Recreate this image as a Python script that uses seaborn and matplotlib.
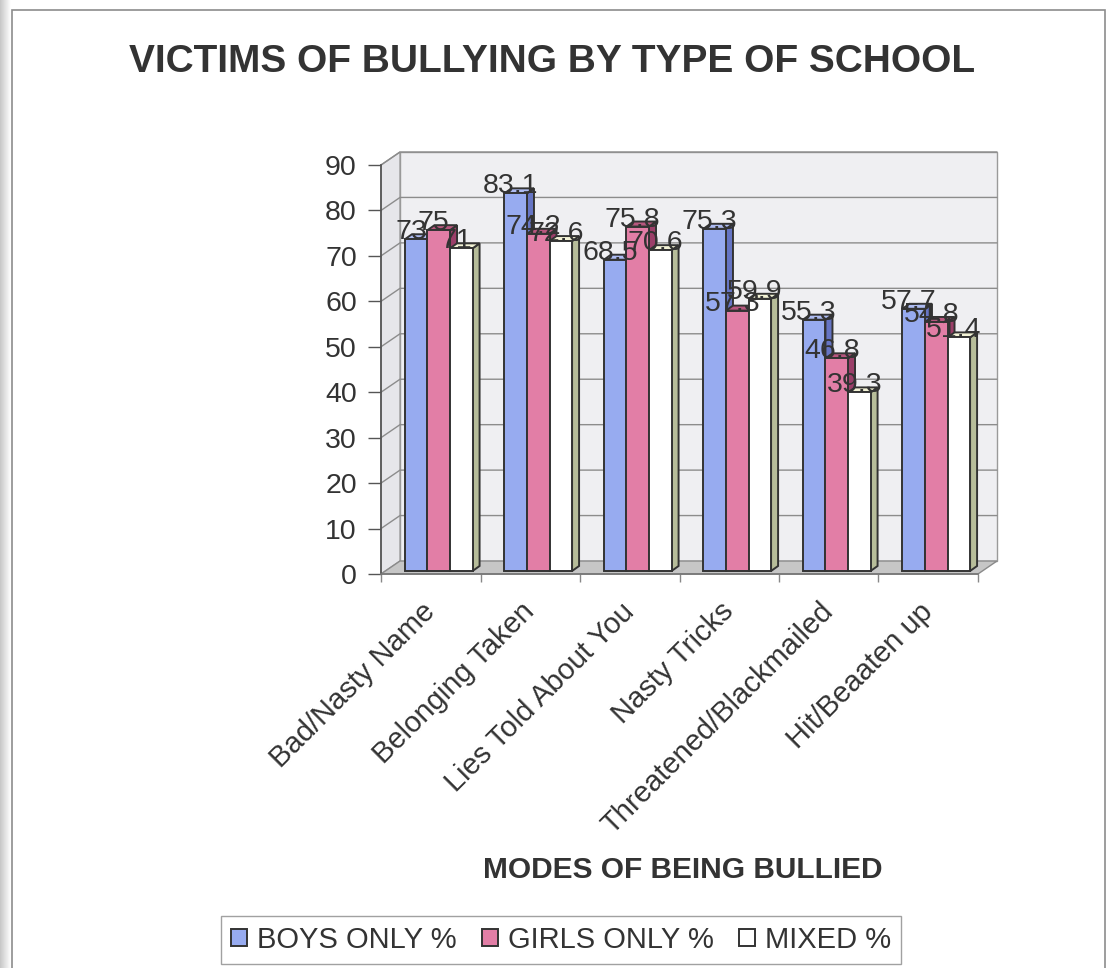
import numpy as np
import pandas as pd
import seaborn as sns
import matplotlib
matplotlib.use("Agg")
import matplotlib.pyplot as plt
from matplotlib.patches import Polygon, Rectangle
from matplotlib.transforms import ScaledTranslation

# ---- data -------------------------------------------------------------
categories = ["Bad/Nasty Name", "Belonging Taken", "Lies Told About You",
              "Nasty Tricks", "Threatened/Blackmailed", "Hit/Beaaten up"]
series = ["BOYS ONLY %", "GIRLS ONLY %", "MIXED %"]
boys = [73, 83.1, 68.5, 75.3, 55.3, 57.7]
girls = [75, 74.2, 75.8, 57.3, 46.8, 54.8]
mixed = [71, 72.6, 70.6, 59.9, 39.3, 51.4]
y_ticks = [0, 10, 20, 30, 40, 50, 60, 70, 80, 90]

title = "VICTIMS OF BULLYING BY TYPE OF SCHOOL"
x_title = "MODES OF BEING BULLIED"

# ---- style ------------------------------------------------------------
front_colors = ["#97abf0", "#e27ea6", "#ffffff"]
side_colors = ["#6675c4", "#9b3f69", "#b7bd9a"]
top_colors = ["#aebcf2", "#b8577f", "#f3f3d6"]
ink = "#333333"

sns.set_theme(style="white")
plt.rcParams["font.family"] = ["Liberation Sans", "DejaVu Sans"]

df = pd.DataFrame({
    "mode": categories * 3,
    "school": np.repeat(series, len(categories)),
    "pct": boys + girls + mixed,
})

W, H = 1115, 968
fig = plt.figure(figsize=(W / 100, H / 100), dpi=100)
fig.patch.set_facecolor("white")
ax = fig.add_axes([381 / W, 1 - 574 / H, (978 - 381) / W, (574 - 165) / H])
ax.set_facecolor("none")

sns.barplot(data=df, x="mode", y="pct", hue="school", order=categories,
            hue_order=series, palette=front_colors, width=0.68, saturation=1,
            edgecolor=ink, linewidth=1.4, errorbar=None, ax=ax)

x0, x1 = -0.5, len(categories) - 0.5
ax.set_xlim(x0, x1)
ax.set_ylim(0, 90)

# pixel -> data conversion for the pseudo-3D depth
bb = ax.get_window_extent()
ux = (x1 - x0) / bb.width
uy = 90 / bb.height
wx, wy = 19 * ux, 13 * uy      # wall depth
bdx, bdy = 7 * ux, 5 * uy      # bar depth

# walls, grid and floor
ax.add_patch(Rectangle((x0 + wx, wy), x1 - x0, 90, facecolor="#efeff2",
                       edgecolor="#9a9a9a", lw=1, zorder=0.2, clip_on=False))
ax.add_patch(Polygon([(x0, 0), (x0 + wx, wy), (x0 + wx, 90 + wy), (x0, 90)],
                     facecolor="#e6e6ea", edgecolor="#9a9a9a", lw=1,
                     zorder=0.2, clip_on=False))
for v in y_ticks[1:]:
    ax.plot([x0, x0 + wx, x1 + wx], [v, v + wy, v + wy], color="#8c8c8c",
            lw=1, zorder=0.3, clip_on=False)
ax.add_patch(Polygon([(x0, 0), (x1, 0), (x1 + wx, wy), (x0 + wx, wy)],
                     facecolor="#c6c6c6", edgecolor="#8a8a8a", lw=1,
                     zorder=0.4, clip_on=False))

# bars stand slightly behind the front plane
shift = ax.transData + ScaledTranslation(8 / 100, 3 / 100, fig.dpi_scale_trans)

for j, cont in enumerate(ax.containers):
    for bar in cont:
        xl = bar.get_x()
        w = bar.get_width()
        h = bar.get_height()
        z = 2 + j * 0.1
        bar.set_transform(shift)
        bar.set_zorder(z + 0.05)
        bar.set_clip_on(False)
        ax.add_patch(Polygon([(xl + w, 0), (xl + w + bdx, bdy),
                              (xl + w + bdx, h + bdy), (xl + w, h)],
                             facecolor=side_colors[j], edgecolor=ink, lw=1.4,
                             transform=shift, zorder=z, clip_on=False))
        ax.add_patch(Polygon([(xl, h), (xl + bdx, h + bdy),
                              (xl + w + bdx, h + bdy), (xl + w, h)],
                             facecolor=top_colors[j], edgecolor=ink, lw=1.4,
                             transform=shift, zorder=z, clip_on=False))
        ax.annotate(f"{h:g}", (xl + w / 2, h), xytext=(3 * 0.72, 10 * 0.72),
                    textcoords="offset points", ha="center", va="center",
                    fontsize=20.5, color=ink, zorder=10, annotation_clip=False)

# axes, ticks
ax.set_xlabel("")
ax.set_ylabel("")
ax.set_xticks(np.arange(x0, x1 + 0.01, 1))
ax.set_xticklabels([])
ax.set_xticks(range(len(categories)), minor=True)
ax.set_xticklabels(categories, minor=True, rotation=45, ha="right",
                   va="center", rotation_mode="anchor", fontsize=21, color=ink)
ax.tick_params(axis="x", which="major", length=6, width=1, color="#888888",
               direction="out", bottom=True)
ax.tick_params(axis="x", which="minor", length=0, pad=24, bottom=True)
ax.set_yticks(y_ticks)
ax.set_yticklabels([str(v) for v in y_ticks], fontsize=20.5, color=ink)
ax.tick_params(axis="y", length=9.4, width=1, color="#555555", pad=8,
               left=True, direction="out")
for s in ["top", "right"]:
    ax.spines[s].set_visible(False)
ax.spines["left"].set_color("#555555")
ax.spines["bottom"].set_color("#777777")

# legend below the chart
handles, labels = ax.get_legend_handles_labels()
if ax.get_legend() is not None:
    ax.get_legend().remove()
leg = fig.legend(handles, labels, loc="center",
                 bbox_to_anchor=(561 / W, 1 - 940 / H), ncol=3, frameon=True,
                 fancybox=False, fontsize=21, handlelength=0.55,
                 handleheight=0.55, handletextpad=0.35, columnspacing=0.85,
                 borderpad=0.35)
leg.get_frame().set_edgecolor("#8a8a8a")
leg.get_frame().set_linewidth(1)
for t in leg.get_texts():
    t.set_color(ink)

# titles
fig.text(552 / W, 1 - 62 / H, title, ha="center", va="center", fontsize=28,
         fontweight="bold", color=ink)
fig.text(683 / W, 1 - 870 / H, x_title, ha="center", va="center",
         fontsize=21.5, fontweight="bold", color=ink)

# chart border and left page shadow
fig.add_artist(Rectangle((12 / W, -0.01), (1105 - 12) / W, (H - 10) / H + 0.01,
                         transform=fig.transFigure, fill=False,
                         edgecolor="#8c8c8c", lw=1.2))
sax = fig.add_axes([0, 0, 11 / W, 1])
sax.imshow(np.linspace(0.78, 1.0, 24)[None, :], cmap="gray", vmin=0, vmax=1,
           aspect="auto")
sax.axis("off")

fig.savefig("out.png", dpi=100)
